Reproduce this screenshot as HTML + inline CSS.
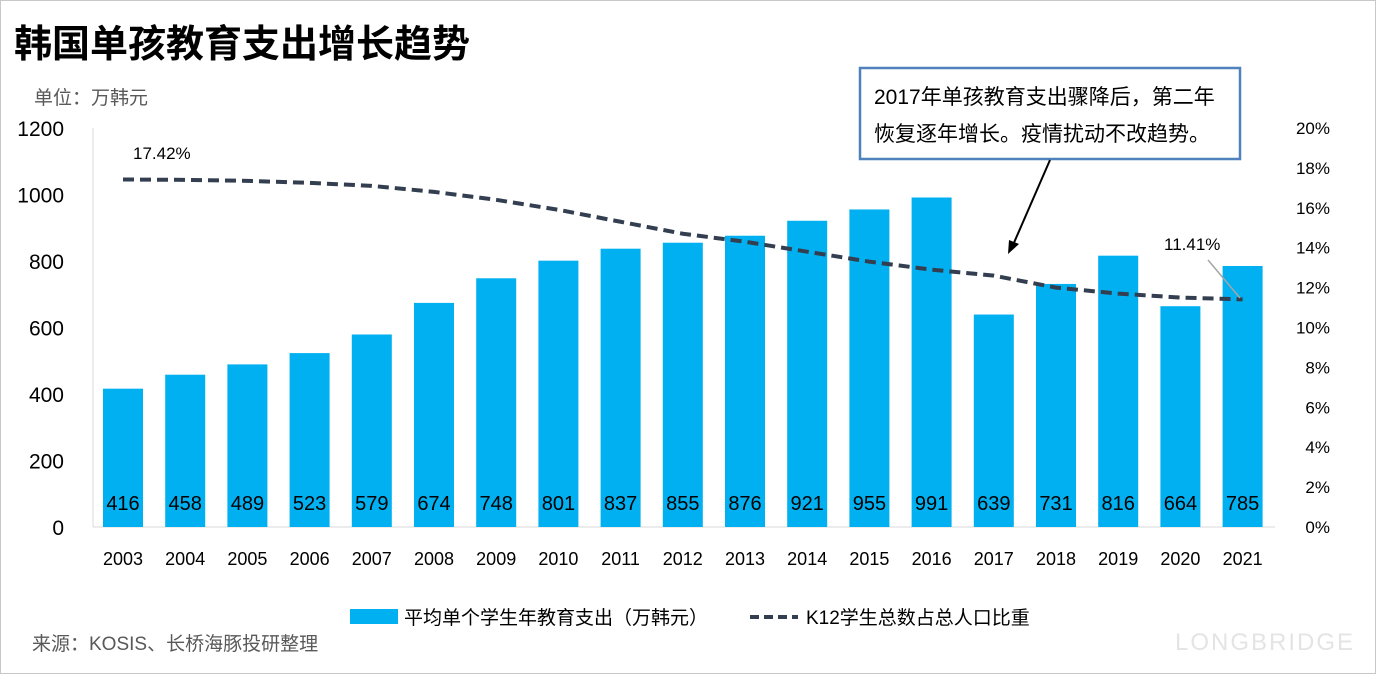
<!DOCTYPE html>
<html><head><meta charset="utf-8"><style>
body{margin:0;width:1376px;height:674px;overflow:hidden;background:#fff;font-family:"Liberation Sans","Noto Sans CJK SC",sans-serif;}
#frame{position:absolute;left:0;top:0;width:1374px;height:672px;border:1px solid #c8c8c8;}
</style></head><body>
<div id="frame"></div>
<svg id="c" width="1376" height="674" style="position:absolute;left:0;top:0" font-family="Liberation Sans, Noto Sans CJK SC, sans-serif">
<text x="14" y="57" font-size="38" font-weight="bold" fill="#000">韩国单孩教育支出增长趋势</text>
<text x="34" y="104" font-size="19" fill="#595959">单位：万韩元</text>
<text x="32" y="650" font-size="19" fill="#595959">来源：KOSIS、长桥海豚投研整理</text>
<text x="1355" y="650" font-size="24" fill="#e4e4e4" text-anchor="end" letter-spacing="2">LONGBRIDGE</text>
<line x1="93" y1="128" x2="93" y2="527" stroke="#d9d9d9"/>
<line x1="93" y1="527" x2="1275" y2="527" stroke="#d9d9d9"/>
<g id="bars"></g><g id="ticks"></g>
<path id="line" fill="none" stroke="#333f50" stroke-width="4" stroke-dasharray="11,6"/>
<text x="133" y="159" font-size="17" fill="#000">17.42%</text>
<text x="1164" y="250" font-size="17" fill="#000">11.41%</text>
<line x1="1208" y1="260" x2="1240" y2="298" stroke="#a6a6a6" stroke-width="1.5"/>
<rect x="860" y="68" width="380" height="91" fill="#fff" stroke="#4f81bd" stroke-width="2.5"/>
<text x="874" y="104" font-size="21" fill="#000">2017年单孩教育支出骤降后，第二年</text>
<text x="874" y="141" font-size="21" fill="#000">恢复逐年增长。疫情扰动不改趋势。</text>
<line x1="1050" y1="160" x2="1013" y2="245" stroke="#000" stroke-width="2"/>
<polygon points="1008,254 1009,240 1019,244" fill="#000"/>
<rect x="350" y="609" width="48" height="15" fill="#00b0f0"/>
<text x="404" y="624" font-size="19" fill="#000">平均单个学生年教育支出（万韩元）</text>
<line x1="750" y1="617" x2="798" y2="617" stroke="#333f50" stroke-width="4" stroke-dasharray="9,5"/>
<text x="806" y="624" font-size="19" fill="#000">K12学生总数占总人口比重</text>
</svg>
<script>
const years=["2003","2004","2005","2006","2007","2008","2009","2010","2011","2012","2013","2014","2015","2016","2017","2018","2019","2020","2021"];
const spend=[416,458,489,523,579,674,748,801,837,855,876,921,955,991,639,731,816,664,785];
const ratio=[17.42,17.4,17.35,17.25,17.1,16.8,16.4,15.9,15.3,14.7,14.3,13.8,13.3,12.9,12.6,12.0,11.7,11.5,11.41];
const leftTicks=[0,200,400,600,800,1000,1200];
const rightTicks=[0,2,4,6,8,10,12,14,16,18,20];
const NS="http://www.w3.org/2000/svg";
const x=i=>123+i*62.2, yL=v=>527-v*399/1200, yR=v=>527-v*399/20;
function mk(t,a,p){const e=document.createElementNS(NS,t);for(const k in a)e.setAttribute(k,a[k]);p.appendChild(e);return e;}
const B=document.getElementById('bars'),T=document.getElementById('ticks');
years.forEach((y,i)=>{
 const r=mk('rect',{x:x(i)-20,y:yL(spend[i]),width:40,height:527-yL(spend[i]),fill:'#00b0f0'},B);
 
 
 const v=mk('text',{x:x(i),y:510,'font-size':20,'text-anchor':'middle',fill:'#000'},B);v.textContent=spend[i];
 
 
 const l=mk('text',{x:x(i),y:565,'font-size':18,'text-anchor':'middle',fill:'#000'},T);l.textContent=y;
 
 
});
leftTicks.forEach(v=>{const t=mk('text',{x:64,y:yL(v)+8,'font-size':21,'text-anchor':'end',fill:'#000'},T);t.textContent=v;
 
 });
rightTicks.forEach(v=>{const t=mk('text',{x:1330,y:yR(v)+6,'font-size':17,'text-anchor':'end',fill:'#000'},T);t.textContent=v+'%';
 
 });
let d='';ratio.forEach((v,i)=>{d+=(i?'L':'M')+x(i)+','+yR(v);});
document.getElementById('line').setAttribute('d',d);
</script>
</body></html>
